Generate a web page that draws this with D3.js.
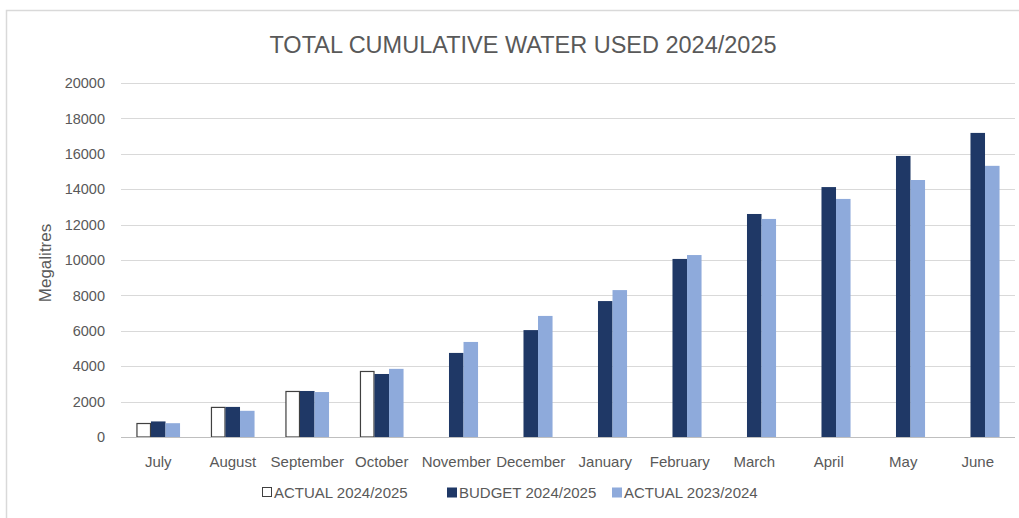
<!DOCTYPE html>
<html>
<head>
<meta charset="utf-8">
<script src="https://cdn.jsdelivr.net/npm/d3@7"></script>
<style>
  html, body { margin: 0; padding: 0; background: #ffffff; }
  svg { display: block; }
  text { font-family: "Liberation Sans", Arial, sans-serif; }
</style>
</head>
<body>
<svg id="chart" width="1019" height="518"></svg>
<script>
// Monthly cumulative water use (megalitres)
const months = ["July", "August", "September", "October", "November", "December",
                "January", "February", "March", "April", "May", "June"];
const actual2425 = [790, 1700, 2600, 3730, null, null, null, null, null, null, null, null];
const budget2425 = [880, 1700, 2600, 3560, 4750, 6040, 7680, 10060, 12600, 14120, 15880, 17180];
const actual2324 = [780, 1480, 2540, 3850, 5370, 6840, 8300, 10280, 12320, 13450, 14520, 15320];
const yTicks = [0, 2000, 4000, 6000, 8000, 10000, 12000, 14000, 16000, 18000, 20000];
const seriesNames = ["ACTUAL 2024/2025", "BUDGET 2024/2025", "ACTUAL 2023/2024"];

const series = [
  { name: seriesNames[0], values: actual2425, fill: "#ffffff", stroke: "#404040" },
  { name: seriesNames[1], values: budget2425, fill: "#1f3866", stroke: "none" },
  { name: seriesNames[2], values: actual2324, fill: "#8eaadb", stroke: "none" }
];

const svg = d3.select("#chart");
const W = 1019, H = 518;
const plot = { left: 121, right: 1015, top: 83, bottom: 437 };

// chart area frame
svg.append("rect")
  .attr("x", 6.5).attr("y", 10.5)
  .attr("width", W + 10).attr("height", H + 10)
  .attr("fill", "#ffffff").attr("stroke", "#d9d9d9").attr("stroke-width", 1.5);

const x = d3.scaleBand().domain(months).range([plot.left, plot.right]).paddingInner(0).paddingOuter(0);
const innerW = x.bandwidth() * 0.585;
const x1 = d3.scaleBand().domain(seriesNames).range([0, innerW]).padding(0);
const y = d3.scaleLinear().domain([0, 20000]).range([plot.bottom, plot.top]);

// horizontal gridlines
svg.append("g")
  .selectAll("line")
  .data(yTicks.filter(t => t > 0))
  .join("line")
  .attr("x1", plot.left).attr("x2", plot.right)
  .attr("y1", d => Math.round(y(d)) + 0.5).attr("y2", d => Math.round(y(d)) + 0.5)
  .attr("stroke", "#d9d9d9").attr("stroke-width", 1);

// y axis labels
const yAxis = d3.axisLeft(y).tickValues(yTicks).tickSize(0).tickPadding(0).tickFormat(d3.format("d"));
const yg = svg.append("g").attr("transform", `translate(${plot.left - 16},0)`).call(yAxis);
yg.select(".domain").remove();
yg.selectAll("text").attr("fill", "#595959").attr("font-size", 14.5);

// bars
const groups = svg.append("g").selectAll("g")
  .data(series)
  .join("g");

groups.each(function (s) {
  d3.select(this).selectAll("rect")
    .data(months.map((m, i) => ({ m, v: s.values[i] })).filter(d => d.v != null))
    .join("rect")
    .attr("x", d => x(d.m) + (x.bandwidth() - innerW) / 2 + x1(s.name) + (s.stroke !== "none" ? 0.5 : 0))
    .attr("y", d => y(d.v) + (s.stroke !== "none" ? 0.5 : 0))
    .attr("width", x1.bandwidth() - (s.stroke !== "none" ? 1 : 0))
    .attr("height", d => plot.bottom - y(d.v) - (s.stroke !== "none" ? 0.5 : 0))
    .attr("fill", s.fill)
    .attr("stroke", s.stroke)
    .attr("stroke-width", 1.2);
});

// baseline
svg.append("line")
  .attr("x1", plot.left).attr("x2", plot.right)
  .attr("y1", plot.bottom + 0.5).attr("y2", plot.bottom + 0.5)
  .attr("stroke", "#bfbfbf").attr("stroke-width", 1);

// x axis labels
const xAxis = d3.axisBottom(x).tickSize(0).tickPadding(0);
const xg = svg.append("g").attr("transform", `translate(0,${plot.bottom + 19})`).call(xAxis);
xg.select(".domain").remove();
xg.selectAll("text").attr("fill", "#595959").attr("font-size", 15).attr("dy", "0.71em");

// y axis title
svg.append("text")
  .attr("transform", `translate(51,${(plot.top + plot.bottom) / 2 + 3}) rotate(-90)`)
  .attr("text-anchor", "middle")
  .attr("fill", "#595959").attr("font-size", 17)
  .text("Megalitres");

// title
svg.append("text")
  .attr("x", 523).attr("y", 53)
  .attr("text-anchor", "middle")
  .attr("fill", "#595959").attr("font-size", 23.5)
  .text("TOTAL CUMULATIVE WATER USED 2024/2025");

// legend
const legendX = [262, 447, 612];
const lg = svg.append("g").selectAll("g")
  .data(series)
  .join("g")
  .attr("transform", (d, i) => `translate(${legendX[i]},498)`);
lg.append("rect")
  .attr("x", d => d.stroke !== "none" ? 0.5 : 0).attr("y", -10.5)
  .attr("width", d => d.stroke !== "none" ? 9 : 10).attr("height", d => d.stroke !== "none" ? 9 : 10)
  .attr("fill", d => d.fill).attr("stroke", d => d.stroke).attr("stroke-width", 1);
lg.append("text")
  .attr("x", 12).attr("y", 0)
  .attr("fill", "#595959").attr("font-size", 15)
  .text(d => d.name);
</script>
</body>
</html>
